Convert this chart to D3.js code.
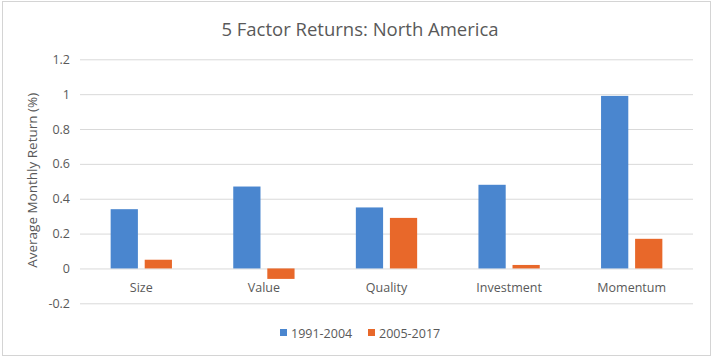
<!DOCTYPE html>
<html><head><meta charset="utf-8">
<script src="https://cdn.jsdelivr.net/npm/d3@7"></script>
<style>body{margin:0;background:#fff}svg{display:block}</style>
</head><body>
<script>
const categories = ["Size","Value","Quality","Investment","Momentum"];
const seriesNames = ["1991-2004","2005-2017"];
const series1991 = [0.34, 0.47, 0.35, 0.48, 0.99];
const series2005 = [0.05, -0.06, 0.29, 0.02, 0.17];
const yTicks = [-0.2, 0, 0.2, 0.4, 0.6, 0.8, 1, 1.2];
const colors = ["#4a86cf", "#e8682a"];

(function () {
const W = 713, H = 358;
const svg = d3.select("body").append("svg").attr("width", W).attr("height", H);
const font = "'Open Sans', 'Noto Sans', sans-serif";

svg.append("rect").attr("x", 2.5).attr("y", 1.5).attr("width", 708).attr("height", 354)
  .attr("fill", "#fff").attr("stroke", "#d4d4d4");

const pL = 80, pR = 693, pT = 59.3, pB = 303.3;
const y = d3.scaleLinear().domain([-0.2, 1.2]).range([pB, pT]);
const x0 = d3.scaleBand().domain(categories).range([pL, pR]).paddingInner(0.5).paddingOuter(0.25);
const x1 = d3.scaleBand().domain(seriesNames).range([0, x0.bandwidth()]).paddingInner(0.2);

const yAxis = d3.axisLeft(y).tickValues(yTicks).tickSize(-(pR - pL)).tickPadding(10)
  .tickFormat(d => d3.format("~g")(d).replace("−", "-"));
const gy = svg.append("g").attr("transform", `translate(${pL},0)`).call(yAxis);
gy.select(".domain").remove();
gy.selectAll(".tick line").attr("stroke", "#d9d9d9").attr("stroke-width", 1);
gy.selectAll(".tick text").attr("fill", "#595959").style("font-family", font).style("font-size", "12.5px");

const data = categories.map((c, i) => ({cat: c, vals: [series1991[i], series2005[i]]}));
const g = svg.append("g");
data.forEach(d => {
  d.vals.forEach((v, j) => {
    g.append("rect")
      .attr("x", x0(d.cat) + x1(seriesNames[j]))
      .attr("width", x1.bandwidth())
      .attr("y", Math.min(y(v), y(0)))
      .attr("height", Math.abs(y(v) - y(0)))
      .attr("fill", colors[j]);
  });
});

const xAxis = d3.axisBottom(x0).tickSize(0).tickPadding(15);
const gx = svg.append("g").attr("transform", `translate(0,${y(0)})`).call(xAxis);
gx.select(".domain").remove();
gx.selectAll(".tick text").attr("fill", "#595959").style("font-family", font).style("font-size", "12.5px");

svg.append("text").attr("x", 360).attr("y", 36).attr("text-anchor", "middle")
  .attr("fill", "#595959").style("font-family", font).style("font-size", "18.5px")
  .text("5 Factor Returns: North America");

svg.append("text").attr("transform", `translate(37,${(pT + pB) / 2 - 1}) rotate(-90)`)
  .attr("text-anchor", "middle").attr("fill", "#595959")
  .style("font-family", font).style("font-size", "13.5px")
  .text("Average Monthly Return (%)");

const legX = [280, 368];
seriesNames.forEach((n, j) => {
  svg.append("rect").attr("x", legX[j]).attr("y", 329).attr("width", 7).attr("height", 7).attr("fill", colors[j]);
  svg.append("text").attr("x", legX[j] + 11).attr("y", 337.5).attr("fill", "#595959")
    .style("font-family", font).style("font-size", "12.5px").text(n);
});
})();
</script>
</body></html>
